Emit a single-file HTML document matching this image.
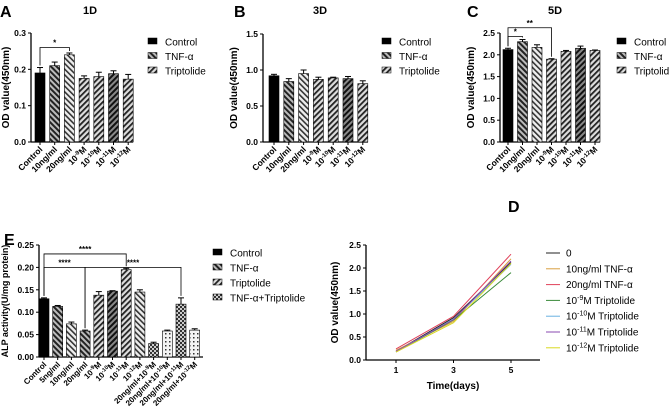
<!DOCTYPE html>
<html><head><meta charset="utf-8"><style>
body{margin:0;background:#fff}
svg{display:block;font-family:"Liberation Sans",Arial,sans-serif}
</style></head><body>
<svg id="fig" width="669" height="415" viewBox="0 0 669 415">
<defs>
<pattern id="pTNF" patternUnits="userSpaceOnUse" width="4" height="4" patternTransform="rotate(-45)"><rect width="4" height="4" fill="#bbb"/><rect width="2" height="4" fill="#222"/></pattern>
<pattern id="pTNF2" patternUnits="userSpaceOnUse" width="4" height="4" patternTransform="rotate(-45)"><rect width="4" height="4" fill="#eee"/><rect width="1.6" height="4" fill="#333"/></pattern>
<pattern id="pTRI" patternUnits="userSpaceOnUse" width="4" height="4" patternTransform="rotate(45)"><rect width="4" height="4" fill="#ddd"/><rect width="1.8" height="4" fill="#222"/></pattern>
<pattern id="pTRI2" patternUnits="userSpaceOnUse" width="4" height="4" patternTransform="rotate(45)"><rect width="4" height="4" fill="#888"/><rect width="2" height="4" fill="#111"/></pattern>
<pattern id="pCOMB" patternUnits="userSpaceOnUse" width="4" height="4"><rect width="4" height="4" fill="#333"/><rect x="0" y="0" width="2" height="2" fill="#ccc"/><rect x="2" y="2" width="2" height="2" fill="#ccc"/></pattern>
<pattern id="pCOMB2" patternUnits="userSpaceOnUse" width="4" height="4"><rect width="4" height="4" fill="#f4f4f4"/><rect x="1" y="1" width="1.5" height="1.5" fill="#333"/></pattern>
</defs>
</svg>
<script>
const NS='http://www.w3.org/2000/svg';
const svg=document.getElementById('fig');
function el(tag,attrs,parent,text){const e=document.createElementNS(NS,tag);for(const k in attrs)e.setAttribute(k,attrs[k]);if(text!==undefined)e.textContent=text;(parent||svg).appendChild(e);return e;}

// ---- data ----
const labelsA=[["Control"],["10ng/ml"],["20ng/ml"],["10","-9","M"],["10","-10","M"],["10","-11","M"],["10","-12","M"]];
const valuesA=[0.19,0.21,0.24,0.175,0.18,0.188,0.173];
const errA=[0.015,0.01,0.005,0.007,0.012,0.008,0.013];
const valuesB=[0.92,0.84,0.95,0.87,0.89,0.88,0.81];
const errB=[0.02,0.04,0.05,0.03,0.01,0.03,0.04];
const valuesC=[2.12,2.3,2.17,1.9,2.08,2.15,2.1];
const errC=[0.03,0.05,0.06,0.01,0.02,0.05,0.01];
const ticksA=[0,0.1,0.2,0.3];
const ticksB=[0,0.5,1.0,1.5];
const ticksC=[0,0.5,1.0,1.5,2.0,2.5];
const fillsABC=["#000","url(#pTNF)","url(#pTNF2)","url(#pTRI)","url(#pTRI)","url(#pTRI2)","url(#pTRI)"];
const labelsE=[["Control"],["5ng/ml"],["10ng/ml"],["20ng/ml"],["10","-9","M"],["10","-10","M"],["10","-11","M"],["10","-12","M"],["20ng/ml+10","-9","M"],["20ng/ml+10","-10","M"],["20ng/ml+10","-11","M"],["20ng/ml+10","-12","M"]];
const valuesE=[0.13,0.113,0.074,0.058,0.138,0.147,0.195,0.145,0.03,0.058,0.118,0.06];
const errE=[0.002,0.002,0.004,0.002,0.008,0.001,0.003,0.005,0.003,0.002,0.014,0.003];
const ticksE=[0,0.05,0.10,0.15,0.20,0.25];
const fillsE=["#000","url(#pTNF)","url(#pTNF2)","url(#pTNF)","url(#pTRI)","url(#pTRI2)","url(#pTRI)","url(#pTNF2)","url(#pCOMB)","url(#pCOMB2)","url(#pCOMB)","url(#pCOMB2)"];
const daysD=[1,3,5];
const seriesNamesD=[["0"],["10ng/ml TNF-α"],["20ng/ml TNF-α"],["10","-9","M Triptolide"],["10","-10","M Triptolide"],["10","-11","M Triptolide"],["10","-12","M Triptolide"]];
const s0=[0.19,0.92,2.12];
const s10ng=[0.21,0.84,2.2];
const s20ng=[0.24,0.95,2.3];
const s9=[0.175,0.87,1.9];
const s10=[0.18,0.89,2.08];
const s11=[0.188,0.88,2.15];
const s12=[0.173,0.81,2.1];
const ticksD=[0,0.5,1.0,1.5,2.0,2.5];
const colorsD=["#222","#d9a040","#e0405a","#3a8a3a","#6ab0e0","#8a4ab0","#d8d820"];

function fmt(v,dp){return v.toFixed(dp);}
function addLabel(parent,x,y,parts,size){
  const t=el('text',{x:x,y:y,'font-size':size,'font-weight':'bold','text-anchor':'end',transform:`rotate(-45 ${x} ${y})`},parent);
  
  
  el('tspan',{},t,parts[0]);
  if(parts.length>1){el('tspan',{dy:-3,'font-size':size*0.7},t,parts[1]);el('tspan',{dy:3},t,parts[2]);}
}
function barChart(o){
  const g=el('g',{},svg);
  const y=v=>o.y0-(v/o.max)*(o.y0-o.yTop);
  const x=i=>o.x0+i*o.step;
  el('line',{x1:o.ax,y1:o.yTop,x2:o.ax,y2:o.y0,stroke:'#000','stroke-width':1.3},g);
  el('line',{x1:o.ax,y1:o.y0,x2:o.axEnd,y2:o.y0,stroke:'#000','stroke-width':1.3},g);
  o.ticks.forEach(t=>{el('line',{x1:o.ax-3,y1:y(t),x2:o.ax,y2:y(t),stroke:'#000'},g);
    const tl=el('text',{x:o.ax-5,y:y(t)+3,'font-size':8.5,'font-weight':'bold','text-anchor':'end'},g,fmt(t,o.dp));
    });
  o.values.forEach((v,i)=>{
    const cx=x(i),w=o.bw;
    const r=el('rect',{x:cx-w/2,y:y(v),width:w,height:o.y0-y(v),fill:o.fills[i],stroke:'#000','stroke-width':0.6},g);
    
    const ey=y(v+o.err[i]);
    el('line',{x1:cx,y1:y(v),x2:cx,y2:ey,stroke:'#000'},g);
    el('line',{x1:cx-3,y1:ey,x2:cx+3,y2:ey,stroke:'#000'},g);
    el('line',{x1:cx,y1:o.y0,x2:cx,y2:o.y0+3,stroke:'#000'},g);
    addLabel(g,cx+3,o.y0+8,o.labels[i],o.lsize||8.5);
  });
  const yt=el('text',{x:0,y:0,'font-size':o.ytsize||10,'font-weight':'bold','text-anchor':'middle',transform:`translate(${o.ytx||o.ax-26},${(o.y0+o.yTop)/2}) rotate(-90)`},g,o.ytitle);
  
  (o.sig||[]).forEach(s=>{
    const yy=y(s[2]);
    const p=el('path',{d:`M${x(s[0])},${y(o.values[s[0]]+o.err[s[0]])-2} V${yy} H${x(s[1])} V${y(o.values[s[1]]+o.err[s[1]])-2}`,fill:'none',stroke:'#000','stroke-width':0.8},g);
    
    el('text',{x:(x(s[0])+x(s[1]))/2,y:yy-2,'font-size':8,'font-weight':'bold','text-anchor':'middle'},g,s[3]);
  });
  if(o.title){const tt=el('text',{x:o.title[1],y:14,'font-size':11,'font-weight':'bold','text-anchor':'middle'},g,o.title[0]);}
  const lt=el('text',{x:o.letter[0],y:o.letter[1],'font-size':16,'font-weight':'bold'},g,o.letter[2]);
  
  o.legend.forEach((n,i)=>{
    const lg=el('g',{},g);
    const ly=o.legY+i*o.legStep;
    el('rect',{x:o.legX,y:ly-4,width:9,height:6,fill:o.legFills[i],stroke:'#000','stroke-width':0.5},lg);
    el('text',{x:o.legX+17,y:ly+3.5,'font-size':10},lg,n);
  });
}
const leg3=["Control","TNF-α","Triptolide"],legF3=["#000","url(#pTNF)","url(#pTRI)"];
barChart({name:'panel-a-chart',values:valuesA,err:errA,labels:labelsA,ticks:ticksA,dp:1,max:0.3,ax:31,axEnd:133,x0:40,step:14.7,bw:10,y0:142,yTop:33,fills:fillsABC,ytitle:'OD value(450nm)',ytx:9,title:['1D',90],letter:[0,17,'A'],legend:leg3,legFills:legF3,legX:148,legY:42,legStep:14.5,sig:[[0,2,0.26,'*']]});
barChart({name:'panel-b-chart',values:valuesB,err:errB,labels:labelsA,ticks:ticksB,dp:1,max:1.5,ax:263,axEnd:368,x0:274,step:14.8,bw:10,y0:142,yTop:34,fills:fillsABC,ytitle:'OD value(450nm)',title:['3D',320],letter:[234,17,'B'],legend:leg3,legFills:legF3,legX:382,legY:42,legStep:14.5});
barChart({name:'panel-c-chart',values:valuesC,err:errC,labels:labelsA,ticks:ticksC,dp:1,max:2.5,ax:500,axEnd:600,x0:508,step:14.5,bw:10,y0:142,yTop:33,fills:fillsABC,ytitle:'OD value(450nm)',title:['5D',555],letter:[467,17,'C'],legend:leg3,legFills:legF3,legX:617,legY:42,legStep:14.5,sig:[[0,1,2.42,'*'],[0,3,2.62,'**']]});
barChart({name:'panel-e-chart',values:valuesE,err:errE,labels:labelsE,ticks:ticksE,dp:2,max:0.25,ax:39,axEnd:203,x0:44,step:13.7,bw:10,y0:357,yTop:245,fills:fillsE,ytitle:'ALP activity(U/mg protein)',ytx:8,ytsize:9,letter:[4,245,'E'],legend:["Control","TNF-α","Triptolide","TNF-α+Triptolide"],legFills:["#000","url(#pTNF)","url(#pTRI)","url(#pCOMB)"],legX:213,legY:253,legStep:15,lsize:8,sig:[[0,3,0.20,'****'],[0,6,0.23,'****'],[3,10,0.20,'****']]});

// ---- panel D line chart ----
(function(){
  const g=el('g',{},svg);
  const ax=366,axEnd=540,y0=360,yTop=245;
  const x=d=>396+(d-1)*(511-396)/4;
  const y=v=>y0-v/2.5*(y0-yTop);
  el('line',{x1:ax,y1:yTop,x2:ax,y2:y0,stroke:'#000','stroke-width':1.3},g);
  el('line',{x1:ax,y1:y0,x2:axEnd,y2:y0,stroke:'#000','stroke-width':1.3},g);
  ticksD.forEach(t=>{el('line',{x1:ax-3,y1:y(t),x2:ax,y2:y(t),stroke:'#000'},g);
    const tl=el('text',{x:ax-5,y:y(t)+3,'font-size':8.5,'font-weight':'bold','text-anchor':'end'},g,t.toFixed(1));
    });
  daysD.forEach(d=>{el('line',{x1:x(d),y1:y0,x2:x(d),y2:y0+3,stroke:'#000'},g);
    const tl=el('text',{x:x(d),y:y0+13,'font-size':8.5,'font-weight':'bold','text-anchor':'middle'},g,String(d));
    });
  const xt=el('text',{x:453,y:389,'font-size':10,'font-weight':'bold','text-anchor':'middle'},g,'Time(days)');
  
  const yt=el('text',{x:0,y:0,'font-size':10,'font-weight':'bold','text-anchor':'middle',transform:`translate(${ax-28},${(y0+yTop)/2}) rotate(-90)`},g,'OD value(450nm)');
  
  const lt=el('text',{x:508,y:212,'font-size':16,'font-weight':'bold'},g,'D');
  
  const all=[s0,s10ng,s20ng,s9,s10,s11,s12];
  all.forEach((s,i)=>{
    const p=el('polyline',{points:s.map((v,j)=>x(daysD[j])+','+y(v)).join(' '),fill:'none',stroke:colorsD[i],'stroke-width':1},g);
    
    const lg=el('g',{},g);
    const ly=253+i*15.8;
    el('line',{x1:546,y1:ly,x2:560,y2:ly,stroke:colorsD[i]},lg);
    const t=el('text',{x:566,y:ly+3.5,'font-size':10},lg);
    const n=seriesNamesD[i];
    el('tspan',{},t,n[0]);
    if(n.length>1){el('tspan',{dy:-4,'font-size':7},t,n[1]);el('tspan',{dy:4},t,n[2]);}
  });
})();
</script>
</body></html>
